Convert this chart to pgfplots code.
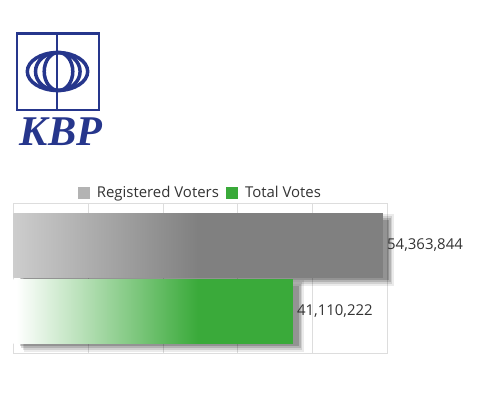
\documentclass[border=0pt]{standalone}
\usepackage{fontspec}
\setmainfont{Open Sans}
\newfontfamily\logofont{Liberation Serif}
\usepackage{pgfplots}
\usepackage{pgfplotstable}
\pgfplotsset{compat=1.18}
\definecolor{kbpblue}{HTML}{26368C}
\definecolor{grayL}{HTML}{CDCDCD}
\definecolor{grayD}{HTML}{808080}
\definecolor{greenD}{HTML}{3AAA3A}
\definecolor{legGray}{HTML}{B3B3B3}
\definecolor{gridc}{HTML}{DDDDDD}
\definecolor{txt}{HTML}{333333}
\pgfdeclarehorizontalshading{grayshade}{100bp}{color(0bp)=(grayL); color(25bp)=(grayL); color(50bp)=(grayD); color(100bp)=(grayD)}
\pgfdeclarehorizontalshading{greenshade}{100bp}{color(0bp)=(white); color(25.5bp)=(white); color(58bp)=(greenD); color(100bp)=(greenD)}
% values in millions of voters
\pgfplotstableread{
x y label
54.363844 1 54,363,844
}\regtable
\pgfplotstableread{
x y label
41.110222 0 41,110,222
}\voteTable
\pgfplotsset{
  shadowlayer/.style n args={4}{forget plot, xbar, bar shift=0pt, draw=none, fill=black,
    fill opacity=#4, xshift=#1, yshift=#2, bar width=#3},
}
\begin{document}
\begin{tikzpicture}[x=1bp,y=1bp]
\useasboundingbox (0,0) rectangle (494,396);
% logo
\begin{scope}[draw=kbpblue, line width=2.4bp]
\draw (16.9,362.4) rectangle (99.2,286.2);
\draw (56.7,362.4) -- (56.7,286.2);
\end{scope}
\begin{scope}[draw=kbpblue, line width=3.5bp]
\draw (57.5,324.5) ellipse [x radius=30.2, y radius=19];
\draw (57.8,324.5) ellipse [x radius=22.3, y radius=19];
\draw (58.5,324.5) ellipse [x radius=14.3, y radius=19];
\end{scope}
\node[text=kbpblue, font=\logofont\bfseries\itshape\fontsize{34}{34}\selectfont, xscale=1.25, yscale=1.25, inner sep=0pt] at (61,264) {KBP};
\begin{axis}[
  at={(13.3bp,42.7bp)}, anchor=south west, scale only axis,
  width=374bp, height=150bp,
  xmin=0, xmax=55, ymin=-0.636, ymax=1.636,
  xtick={0,11,22,33,44,55},
  xticklabels={}, ytick=\empty,
  major tick length=0pt,
  xmajorgrids, grid style={gridc, line width=0.8bp},
  axis line style={gridc, line width=0.8bp},
  clip=false,
  legend style={at={(0.5,1.0)}, anchor=south, draw=none, fill=none, legend columns=2,
    font=\fontsize{15}{18}\selectfont, text=txt,
    /tikz/every even column/.append style={column sep=5bp}},
  legend image code/.code={\fill[#1, draw=none] (0bp,-6bp) rectangle (12bp,6bp); \path (17bp,0bp);},
  mainbar/.style={forget plot, xbar, bar shift=0pt, bar width=64bp, draw=none,
    point meta=explicit symbolic, nodes near coords,
    every node near coord/.append style={anchor=west, font=\fontsize{15}{18}\selectfont,
      text=txt, inner sep=4bp, fill opacity=1, text opacity=1}},
]
% shadow of registered voters bar
\addplot[shadowlayer={11bp}{-5bp}{72bp}{0.08}] table[x=x,y=y] {\regtable};
\addplot[shadowlayer={9.5bp}{-5bp}{68bp}{0.11}] table[x=x,y=y] {\regtable};
\addplot[shadowlayer={8bp}{-5bp}{64bp}{0.14}] table[x=x,y=y] {\regtable};
\addplot[shadowlayer={6.5bp}{-5bp}{60bp}{0.18}] table[x=x,y=y] {\regtable};
\addplot[mainbar, shading=grayshade] table[x=x,y=y,meta=label] {\regtable};
% shadow of total votes bar
\addplot[shadowlayer={11bp}{-5bp}{72bp}{0.08}] table[x=x,y=y] {\voteTable};
\addplot[shadowlayer={9.5bp}{-5bp}{68bp}{0.11}] table[x=x,y=y] {\voteTable};
\addplot[shadowlayer={8bp}{-5bp}{64bp}{0.14}] table[x=x,y=y] {\voteTable};
\addplot[shadowlayer={6.5bp}{-5bp}{60bp}{0.18}] table[x=x,y=y] {\voteTable};
\addplot[mainbar, shading=greenshade] table[x=x,y=y,meta=label] {\voteTable};
\addlegendimage{fill=legGray}
\addlegendentry{Registered Voters}
\addlegendimage{fill=greenD}
\addlegendentry{Total Votes}
\end{axis}
\end{tikzpicture}
\end{document}
